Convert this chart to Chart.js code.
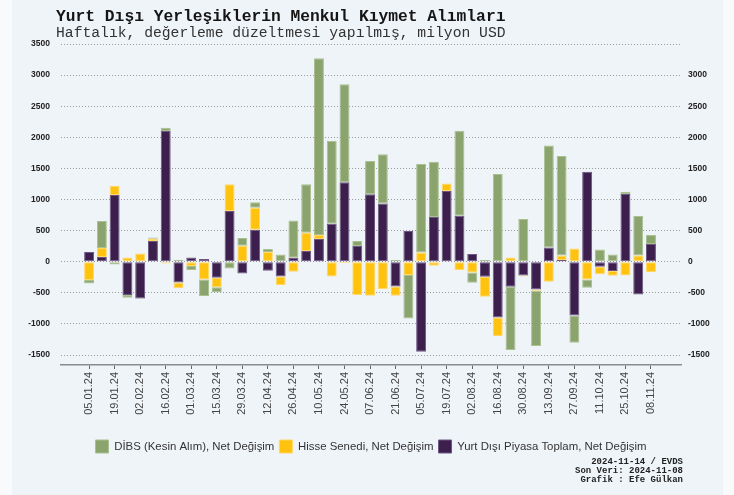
<!DOCTYPE html>
<html>
<head>
<meta charset="utf-8">
<script src="https://cdn.jsdelivr.net/npm/chart.js@4.4.1/dist/chart.umd.min.js"></script>
<style>
  html, body { margin: 0; padding: 0; background: #F0F4F8; }
  #c { display: block; }
</style>
</head>
<body>
<canvas id="c" width="734" height="495"></canvas>
<script>
// weekly observation dates (Friday)
var weeks = [
    "05.01.24", "12.01.24", "19.01.24", "26.01.24", "02.02.24", "09.02.24", "16.02.24", "23.02.24",
    "01.03.24", "08.03.24", "15.03.24", "22.03.24", "29.03.24", "05.04.24", "12.04.24", "19.04.24",
    "26.04.24", "03.05.24", "10.05.24", "17.05.24", "24.05.24", "31.05.24", "07.06.24", "14.06.24",
    "21.06.24", "28.06.24", "05.07.24", "12.07.24", "19.07.24", "26.07.24", "02.08.24", "09.08.24",
    "16.08.24", "23.08.24", "30.08.24", "06.09.24", "13.09.24", "20.09.24", "27.09.24", "04.10.24",
    "11.10.24", "18.10.24", "25.10.24", "01.11.24", "08.11.24"
];

// million USD, net change
var toplam = [
    155, 75, 1072, -536, -590, 332, 2101, -332, 70, 43, -257, 815, -188, 515, -145, -236,
    64, 172, 364, 611, 1276, 252, 1083, 938, -397, 493, -1447, 718, 1136, 740, 123, -241,
    -895, -402, -220, -445, 230, 27, -863, 1447, -80, -150, 1088, -525, 284
];
var hisse = [
    -295, 145, 150, 70, 134, 38, -27, -96, -70, -284, -155, 429, 257, 354, 155, -139,
    -161, 295, 64, -236, -21, -536, -547, -440, -150, -214, 150, -64, 123, -134, -172, -322,
    -300, 70, -16, -21, -322, 75, 214, -284, -123, -75, -220, 102, -166
];
var dibs = [
    -54, 434, -43, -43, -10, 18, 54, 27, -64, -268, -80, -107, 123, 86, 48, 118,
    600, 777, 2841, 1335, 1576, 80, 536, 788, 27, -697, 1420, 890, 0, 1367, -166, 27,
    1410, -1018, 686, -890, 1640, 1597, -440, -134, 198, 118, 37, 632, 145
];

var leftTicks = [-1500, -1000, -500, 0, 500, 1000, 1500, 2000, 2500, 3000, 3500];
var rightTicks = [-1500, -1000, -500, 0, 500, 1000, 1500, 2000, 2500, 3000];

var title = "Yurt Dışı Yerleşiklerin Menkul Kıymet Alımları";
var subtitle = "Haftalık, değerleme düzeltmesi yapılmış, milyon USD";
var footer = ["2024-11-14 / EVDS", "Son Veri: 2024-11-08", "Grafik : Efe Gülkan"];

function points(arr) {
    return arr.map(function (v, i) { return { x: i, y: v }; });
}

function plain(value) {
    return String(value);
}

var decor = {
    id: "decor",
    beforeDraw: function (chart) {
        var ctx = chart.ctx;
        ctx.save();
        ctx.fillStyle = "#F9FAFC";
        ctx.fillRect(0, 0, chart.width, chart.height);
        ctx.fillStyle = "#EFF4F9";
        ctx.fillRect(12, 0, 711, chart.height);
        ctx.restore();
    },
    afterDraw: function (chart) {
        var ctx = chart.ctx;
        ctx.save();
        ctx.textBaseline = "middle";
        ctx.textAlign = "left";
        ctx.fillStyle = "#151515";
        ctx.font = "bold 16.3px 'Liberation Mono'";
        ctx.fillText(title, 56, 17);
        ctx.fillStyle = "#333";
        ctx.font = "14.7px 'Liberation Mono'";
        ctx.fillText(subtitle, 56, 33);

        ctx.textAlign = "right";
        ctx.fillStyle = "#222";
        ctx.font = "bold 9px 'Liberation Mono'";
        footer.forEach(function (line, i) {
            ctx.fillText(line, 683, 462 + i * 8.8);
        });
        ctx.restore();
    }
};

var chart = new Chart(document.getElementById("c"), {
    type: "bar",
    data: {
        datasets: [
            {
                label: "Yurt Dışı Piyasa Toplam, Net Değişim",
                data: points(toplam),
                backgroundColor: "#3D1F4E",
                borderColor: "#6E5683",
                borderWidth: 1,
                borderSkipped: false
            },
            {
                label: "Hisse Senedi, Net Değişim",
                data: points(hisse),
                backgroundColor: "#FFC20E",
                borderColor: "#FFD866",
                borderWidth: 1,
                borderSkipped: false
            },
            {
                label: "DİBS (Kesin Alım), Net Değişim",
                data: points(dibs),
                backgroundColor: "#8BA46E",
                borderColor: "#A9C090",
                borderWidth: 1,
                borderSkipped: false
            }
        ]
    },
    options: {
        responsive: false,
        animation: false,
        devicePixelRatio: 1,
        layout: { padding: { top: 44, left: 0, right: 0, bottom: 32 } },
        datasets: {
            bar: { barPercentage: 0.78, categoryPercentage: 1 }
        },
        scales: {
            x: {
                type: "linear",
                stacked: true,
                offset: false,
                min: -2.2,
                max: 46.35,
                afterBuildTicks: function (axis) {
                    axis.ticks = weeks
                        .map(function (w, i) { return i; })
                        .filter(function (i) { return i % 2 === 0; })
                        .map(function (i) { return { value: i }; });
                },
                afterFit: function (axis) { axis.height = 70; },
                ticks: {
                    autoSkip: false,
                    minRotation: 90,
                    maxRotation: 90,
                    padding: 3,
                    color: "#444",
                    font: { family: "'Liberation Sans', Arial", size: 11 },
                    callback: function (value) { return weeks[value]; }
                },
                grid: {
                    offset: false,
                    drawOnChartArea: false,
                    drawTicks: true,
                    tickLength: 4,
                    color: "#666"
                },
                border: { display: true, color: "#8C8C8C", width: 1.5 }
            },
            y: {
                position: "left",
                stacked: true,
                min: -1660,
                max: 3500,
                afterBuildTicks: function (axis) {
                    axis.ticks = leftTicks.map(function (v) { return { value: v }; });
                },
                afterFit: function (axis) { axis.width = 61; },
                ticks: {
                    padding: 11,
                    color: "#222",
                    font: { family: "'Liberation Sans', Arial", size: 8.5, weight: "bold" },
                    callback: plain
                },
                grid: {
                    drawTicks: false,
                    color: "#9A9A9A",
                    lineWidth: 1
                },
                border: { display: false, dash: [1, 2] }
            },
            y2: {
                position: "right",
                min: -1660,
                max: 3500,
                afterBuildTicks: function (axis) {
                    axis.ticks = rightTicks.map(function (v) { return { value: v }; });
                },
                afterFit: function (axis) { axis.width = 53; },
                ticks: {
                    padding: 7,
                    color: "#222",
                    font: { family: "'Liberation Sans', Arial", size: 8.5, weight: "bold" },
                    callback: plain
                },
                grid: { drawOnChartArea: false, drawTicks: false },
                border: { display: false }
            }
        },
        plugins: {
            title: { display: false },
            tooltip: { enabled: false },
            legend: {
                position: "bottom",
                fullSize: false,
                reverse: true,
                labels: {
                    boxWidth: 13,
                    boxHeight: 13,
                    padding: 5,
                    color: "#333",
                    font: { family: "'Liberation Sans', Arial", size: 11.4 }
                }
            }
        }
    },
    plugins: [decor]
});
</script>
</body>
</html>
